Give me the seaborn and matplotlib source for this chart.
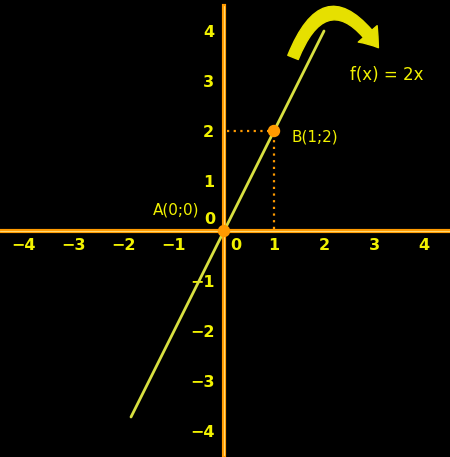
import matplotlib
matplotlib.use("Agg")
import matplotlib.pyplot as plt
import seaborn as sns
import pandas as pd
from matplotlib.patches import FancyArrowPatch

# data
line_x = [-1.86, 2.0]
line_y = [-3.72, 4.0]
point_names = ["A(0;0)", "B(1;2)"]
point_x = [0, 1]
point_y = [0, 2]
ticks = [-4, -3, -2, -1, 1, 2, 3, 4]
func_label = "f(x) = 2x"

YELLOW = "#f2f200"
ORANGE = "#ff9a00"
LINE = "#d8e040"

sns.set_style("dark", {"axes.facecolor": "black", "figure.facecolor": "black"})
plt.rcParams['font.family'] = ['DejaVu Sans']

fig = plt.figure(figsize=(4.5, 4.57), dpi=100)
ax = fig.add_axes([0, 0, 1, 1])
ax.set_xlim(-4.48, 4.52)
ax.set_ylim(-4.52, 4.62)
ax.grid(False)

# axes through the origin
for side in ["top", "right"]:
    ax.spines[side].set_visible(False)
ax.spines["bottom"].set_position("zero")
ax.spines["left"].set_position("zero")
ax.spines["left"].set_bounds(-4.48, 4.5)
for side in ["bottom", "left"]:
    ax.spines[side].set_color(ORANGE)
    ax.spines[side].set_linewidth(3)
ax.plot([-4.48, 4.52], [0, 0], color="#ffd870", lw=0.8, zorder=3)
ax.plot([0, 0], [-4.48, 4.5], color="#ffd870", lw=0.8, zorder=3)

ax.set_xticks(ticks)
ax.set_yticks(ticks)
ax.tick_params(axis="both", direction="out", length=3, width=1.2, color=ORANGE,
               labelcolor=YELLOW, labelsize=11.5)
ax.tick_params(axis="x", pad=2)
ax.tick_params(axis="y", pad=4)
for lab in ax.get_xticklabels() + ax.get_yticklabels():
    lab.set_fontweight("bold")
ax.text(0.24, -0.28, "0", color=YELLOW, fontsize=11.5, fontweight="bold", ha="center", va="center")
ax.text(-0.28, 0.22, "0", color=YELLOW, fontsize=11.5, fontweight="bold", ha="center", va="center")

# dotted guides to B
ax.plot([0.05, 1], [2, 2], color=ORANGE, lw=1.6, ls=(0, (1, 2)), zorder=4)
ax.plot([1, 1], [0.05, 2], color=ORANGE, lw=1.6, ls=(0, (1, 2)), zorder=4)

# function line and points
df = pd.DataFrame({"x": line_x, "y": line_y})
sns.lineplot(data=df, x="x", y="y", ax=ax, color=LINE, lw=2, zorder=5)
pts = pd.DataFrame({"x": point_x, "y": point_y, "name": point_names})
sns.scatterplot(data=pts, x="x", y="y", ax=ax, color=ORANGE, s=80, edgecolor="none", zorder=6)
ax.set_xlabel("")
ax.set_ylabel("")

ax.text(-0.96, 0.42, point_names[0], color=YELLOW, fontsize=11, ha="center", va="center")
ax.text(1.82, 1.88, point_names[1], color=YELLOW, fontsize=11, ha="center", va="center")
ax.text(3.25, 3.12, func_label, color=YELLOW, fontsize=12, ha="center", va="center")

# curved arrow
arrow = FancyArrowPatch((1.36, 3.42), (3.12, 3.62), connectionstyle="arc3,rad=-0.95",
                        arrowstyle="simple,head_width=1.0,head_length=0.7,tail_width=0.45",
                        mutation_scale=18, color="#e6e000", zorder=7)
ax.add_patch(arrow)

fig.savefig("out.png", dpi=100, facecolor="black")
